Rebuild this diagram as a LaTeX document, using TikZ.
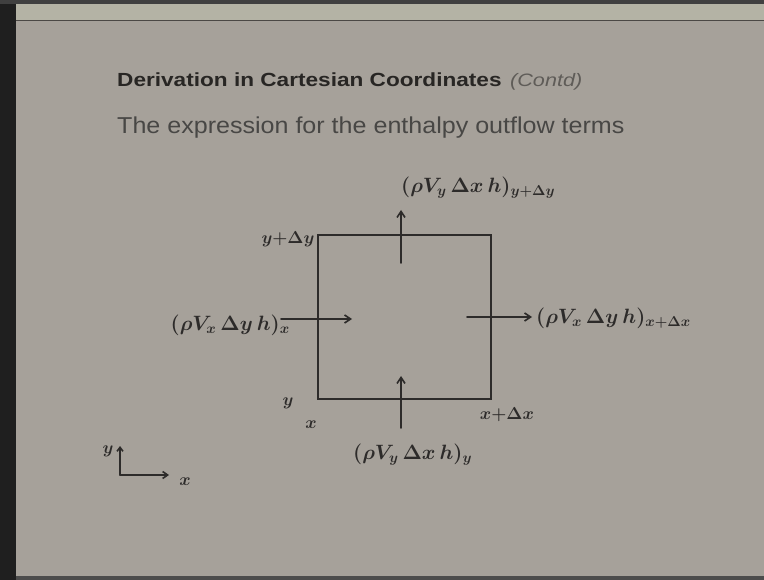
\documentclass[tikz,border=0pt]{standalone}
\usepackage{fontspec}
\setmainfont{Liberation Sans}
\usetikzlibrary{arrows.meta}
\definecolor{slide}{RGB}{166,161,154}
\definecolor{band}{RGB}{180,179,165}
\definecolor{ink}{RGB}{45,43,42}
\definecolor{titlec}{RGB}{40,38,36}
\definecolor{contd}{RGB}{95,92,88}
\tikzset{
  penline/.style={draw=ink, line width=1.6pt, line cap=round},
  flow/.style={penline, -{Straight Barb[length=6pt,width=8pt]}},
  hand/.style={text=ink, inner sep=0pt, font=\fontsize{22.5}{26}\selectfont\boldmath},
  small/.style={text=ink, inner sep=0pt, font=\fontsize{19}{22}\selectfont\boldmath},
}
\begin{document}
\begin{tikzpicture}[x=1pt,y=-1pt]
\useasboundingbox (0,0) rectangle (764,580);
% background
\fill[slide] (0,0) rectangle (764,580);
\fill[band] (16,4) rectangle (764,20);
\draw[black!55!slide, line width=1.2pt] (16,20.5) -- (764,20.5);
\fill[black!88] (0,0) rectangle (16,580);
\fill[black!75] (0,0) rectangle (764,4);
\fill[black!70] (16,576) rectangle (764,580);
% title
\node[anchor=base west, inner sep=0pt, text=titlec, font=\fontsize{19}{22}\selectfont\bfseries] (title) at (117,87) {\scalebox{1.19}[1]{Derivation in Cartesian Coordinates}};
\node[anchor=base west, inner sep=0pt, text=contd, font=\fontsize{18}{21}\selectfont\itshape] (contd) at (510,87) {\scalebox{1.2}[1]{(Contd)}};
\node[anchor=base west, inner sep=0pt, text=titlec!85, font=\fontsize{23}{27}\selectfont] (sub) at (117,134) {\scalebox{1.09}[1]{The expression for the enthalpy outflow terms}};
% control volume
\coordinate (tl) at (318,235);
\coordinate (tr) at (491,235);
\coordinate (br) at (491,399);
\coordinate (bl) at (318,399);
\draw[penline] (tl) -- (tr) -- (br) -- (bl) -- cycle;
% arrows
\coordinate (ta0) at (401,263); \coordinate (ta1) at (401,210);
\coordinate (la0) at (281,319); \coordinate (la1) at (352,319);
\coordinate (ra0) at (467,317); \coordinate (ra1) at (532,317);
\coordinate (ba0) at (401,428); \coordinate (ba1) at (401,376);
\draw[flow] (ta0) -- (ta1);
\draw[flow] (la0) -- (la1);
\draw[flow] (ra0) -- (ra1);
\draw[flow] (ba0) -- (ba1);
% labels
\node[hand, anchor=west] (top) at (401,188) {$(\rho V_y\,\Delta x\,h)_{y+\Delta y}$};
\node[hand, anchor=east] (left) at (290,325) {$(\rho V_x\,\Delta y\,h)_x$};
\node[hand, anchor=west] (right) at (536,318) {$(\rho V_x\,\Delta y\,h)_{x+\Delta x}$};
\node[hand, anchor=west] (bot) at (353,455) {$(\rho V_y\,\Delta x\,h)_y$};
\node[small] (ydy) at (288,239) {$y{+}\Delta y$};
\node[small] (yy) at (288,403) {$y$};
\node[small] (xx) at (311,425) {$x$};
\node[small] (xdx) at (507,415) {$x{+}\Delta x$};
% axes
\coordinate (o) at (120,475);
\coordinate (ay) at (120,446);
\coordinate (ax) at (169,475);
\draw[penline, -{Straight Barb[length=4pt,width=6pt]}] (o) -- (ay);
\draw[penline, -{Straight Barb[length=5pt,width=7pt]}] (o) -- (ax);
\node[small] (ylab) at (108,451) {$y$};
\node[small] (xlab) at (185,482) {$x$};
\end{tikzpicture}
\end{document}
